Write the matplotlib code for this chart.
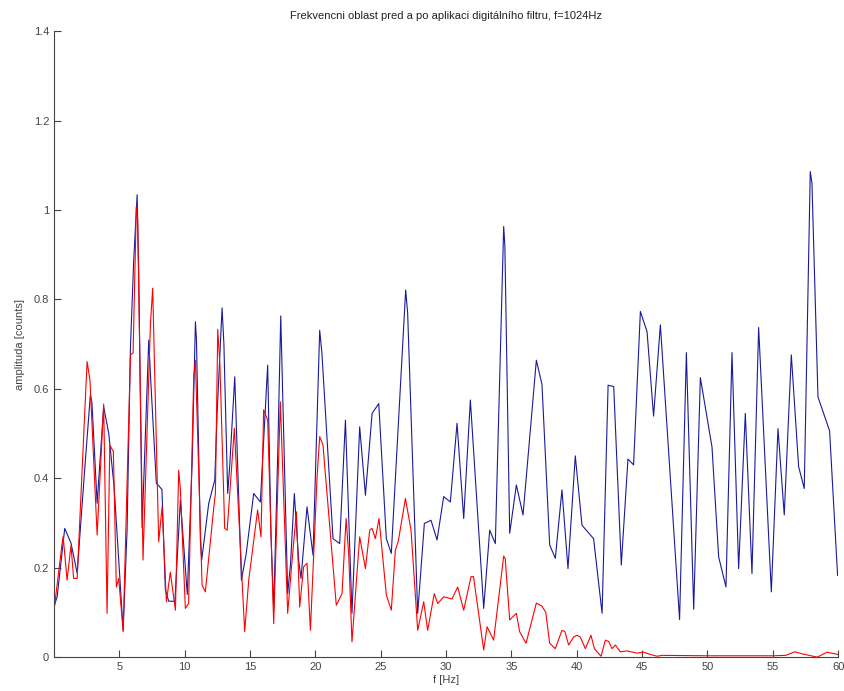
"""
Spectrum before / after digital filtering (fs = 1024 Hz), MATLAB-style look.
"""
import matplotlib
matplotlib.use("Agg")
import matplotlib.pyplot as plt

# ── data ─────────────────────────────────────────────────────────────────
f_raw = [0.0, 0.24, 0.82, 1.3, 1.77, 2.27, 2.78, 2.9, 3.3, 3.8, 4.19, 4.6, 5.08, 5.29,
         5.59, 5.85, 6.1, 6.36, 6.48, 6.74, 7.25, 7.4, 7.83, 8.26, 8.52, 8.78, 9.25,
         9.67, 10.2, 10.57, 10.82, 10.9, 11.2, 11.3, 11.84, 12.3, 12.48, 12.86, 13.0,
         13.29, 13.45, 13.83, 14.34, 14.7, 15.28, 15.79, 16.35, 16.6, 16.81, 17.12,
         17.35, 17.88, 18.1, 18.39, 18.72, 18.9, 19.36, 19.82, 20.33, 20.5, 21.35,
         21.86, 22.3, 22.8, 23.39, 23.83, 24.34, 24.85, 25.43, 25.81, 26.91, 27.06,
         27.83, 28.34, 28.85, 29.31, 29.82, 30.33, 30.84, 31.35, 31.86, 32.88, 33.34,
         33.77, 34.41, 34.5, 34.87, 35.38, 35.89, 36.91, 37.34, 37.93, 38.36, 38.87,
         39.33, 39.89, 40.4, 41.29, 41.94, 42.4, 42.83, 43.41, 43.92, 44.35, 44.87,
         45.38, 45.88, 46.4, 47.87, 48.39, 48.95, 49.46, 50.35, 50.86, 51.42, 51.88,
         52.39, 52.9, 53.41, 53.92, 54.89, 55.4, 55.88, 56.42, 56.98, 57.41, 57.87,
         58.0, 58.46, 59.35, 59.96]
a_raw = [0.113, 0.135, 0.288, 0.255, 0.188, 0.389, 0.586, 0.57, 0.344, 0.56, 0.50,
         0.38, 0.157, 0.06, 0.284, 0.694, 0.888, 1.034, 0.86, 0.29, 0.709, 0.62,
         0.389, 0.375, 0.15, 0.125, 0.125, 0.351, 0.14, 0.434, 0.75, 0.71, 0.262,
         0.217, 0.344, 0.396, 0.545, 0.781, 0.70, 0.366, 0.43, 0.627, 0.172, 0.23,
         0.366, 0.347, 0.653, 0.277, 0.105, 0.456, 0.763, 0.142, 0.21, 0.366, 0.217,
         0.176, 0.336, 0.228, 0.731, 0.68, 0.265, 0.254, 0.53, 0.098, 0.515, 0.362,
         0.545, 0.567, 0.265, 0.232, 0.821, 0.77, 0.098, 0.299, 0.306, 0.262, 0.359,
         0.347, 0.523, 0.31, 0.575, 0.109, 0.284, 0.254, 0.963, 0.92, 0.277, 0.385,
         0.318, 0.664, 0.61, 0.251, 0.221, 0.374, 0.198, 0.45, 0.295, 0.265, 0.098,
         0.608, 0.605, 0.206, 0.443, 0.43, 0.773, 0.728, 0.539, 0.743, 0.084, 0.681,
         0.107, 0.625, 0.47, 0.224, 0.157, 0.681, 0.198, 0.545, 0.187, 0.737, 0.146,
         0.511, 0.318, 0.676, 0.426, 0.377, 1.086, 1.06, 0.582, 0.506, 0.183]

f_filt = [0.0, 0.62, 0.7, 1.0, 1.3, 1.5, 1.77, 2.53, 2.75, 3.3, 3.8, 4.06, 4.27, 4.54,
          4.77, 4.95, 5.29, 5.85, 6.05, 6.3, 6.4, 6.81, 7.38, 7.55, 8.01, 8.27, 8.6,
          8.9, 9.29, 9.54, 9.67, 10.05, 10.3, 10.69, 10.82, 11.33, 11.58, 12.22, 12.35,
          12.53, 12.7, 13.06, 13.25, 13.8, 14.59, 14.9, 15.58, 15.84, 16.04, 16.35,
          16.81, 17.32, 17.88, 18.2, 18.55, 18.8, 19.1, 19.36, 19.62, 20.13, 20.33,
          20.58, 21.6, 22.04, 22.35, 22.55, 22.8, 23.39, 23.83, 24.16, 24.34, 24.59,
          24.87, 25.43, 25.81, 26.12, 26.35, 26.89, 27.32, 27.83, 28.29, 28.59, 29.1,
          29.36, 29.82, 30.46, 30.89, 31.35, 31.91, 32.1, 32.88, 33.14, 33.64, 34.41,
          34.53, 34.87, 35.38, 35.63, 36.12, 36.91, 37.34, 37.63, 37.93, 38.36, 38.87,
          39.1, 39.38, 39.76, 40.02, 40.27, 40.66, 41.09, 41.35, 41.86, 42.19, 42.45,
          42.7, 42.96, 43.33, 43.84, 44.61, 45.1, 45.64, 46.15, 46.53, 50.0, 55.0,
          56.0, 56.7, 57.3, 58.1, 58.4, 59.15, 60.0]
a_filt = [0.105, 0.254, 0.27, 0.172, 0.25, 0.176, 0.176, 0.661, 0.62, 0.273, 0.566,
          0.098, 0.474, 0.46, 0.157, 0.176, 0.057, 0.676, 0.68, 1.007, 0.98, 0.217,
          0.746, 0.825, 0.258, 0.336, 0.124, 0.19, 0.105, 0.418, 0.375, 0.109, 0.12,
          0.627, 0.664, 0.161, 0.146, 0.333, 0.366, 0.733, 0.65, 0.288, 0.284, 0.512,
          0.057, 0.172, 0.329, 0.269, 0.553, 0.53, 0.075, 0.571, 0.098, 0.21, 0.325,
          0.112, 0.202, 0.21, 0.06, 0.403, 0.493, 0.475, 0.116, 0.142, 0.31, 0.23,
          0.034, 0.269, 0.198, 0.284, 0.288, 0.265, 0.31, 0.139, 0.105, 0.239, 0.26,
          0.355, 0.284, 0.06, 0.124, 0.06, 0.142, 0.12, 0.135, 0.13, 0.157, 0.105,
          0.18, 0.18, 0.016, 0.068, 0.038, 0.226, 0.22, 0.083, 0.098, 0.057, 0.031,
          0.121, 0.114, 0.1, 0.031, 0.019, 0.06, 0.057, 0.027, 0.045, 0.049, 0.045,
          0.019, 0.049, 0.019, 0.002, 0.038, 0.035, 0.019, 0.027, 0.012, 0.014, 0.009,
          0.011, 0.006, 0.002, 0.004, 0.003, 0.003, 0.004, 0.012, 0.007, 0.002, 0.0,
          0.011, 0.006]

x_ticks = [5, 10, 15, 20, 25, 30, 35, 40, 45, 50, 55, 60]
y_ticks = [0, 0.2, 0.4, 0.6, 0.8, 1.0, 1.2, 1.4]
y_tick_labels = ["0", "0.2", "0.4", "0.6", "0.8", "1", "1.2", "1.4"]

# ── figure ───────────────────────────────────────────────────────────────
plt.rcParams["font.family"] = ["Liberation Sans", "DejaVu Sans"]
GREY = "#444444"

fig = plt.figure(figsize=(8.44, 6.91), dpi=100)
ax = fig.add_axes([0.064, 0.049, 0.929, 0.906])

ax.plot(f_raw, a_raw, color="#1a1a9a", lw=0.8)
ax.plot(f_filt, a_filt, color="#ff0000", lw=0.8)

ax.set_xlim(0, 60)
ax.set_ylim(0, 1.4)
ax.set_xticks(x_ticks)
ax.set_yticks(y_ticks)
ax.set_yticklabels(y_tick_labels)

for side in ("top", "right"):
    ax.spines[side].set_visible(False)
for side in ("left", "bottom"):
    ax.spines[side].set_color(GREY)
    ax.spines[side].set_linewidth(0.8)
ax.tick_params(direction="in", length=5, width=0.8, color=GREY,
               labelcolor=GREY, labelsize=8)

ax.set_title("Frekvencni oblast pred a po aplikaci digitálního filtru, f=1024Hz",
             fontsize=8, color="#222222", pad=9)
ax.set_xlabel("f [Hz]", fontsize=8, color=GREY, labelpad=2)
ax.set_ylabel("amplituda [counts]", fontsize=8, color=GREY, labelpad=6)

fig.savefig("out.png", dpi=100, facecolor="white")
